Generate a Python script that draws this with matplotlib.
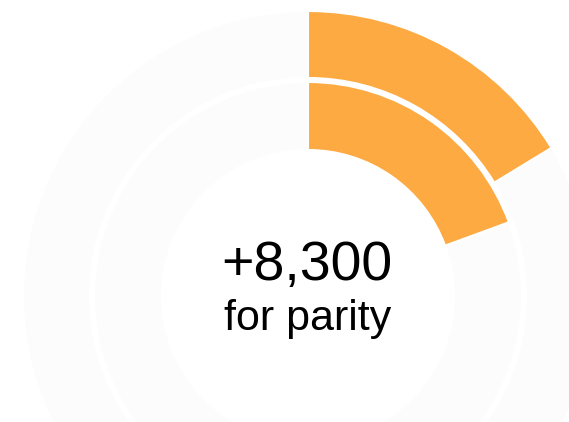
import matplotlib.pyplot as plt
from matplotlib.patches import Wedge

# share of the full circle filled on each ring (outer, inner)
ring_names = ["outer", "inner"]
ring_shares = [0.163, 0.194]
headline = "+8,300"
subline = "for parity"

orange = "#FDAA42"
track = "#FCFCFC"

# ring geometry in pixel units (outer radius, thickness)
cx, cy = 308, 126
rings = [(285, 67), (214, 68)]

fig = plt.figure(figsize=(5.69, 4.22), dpi=100)
ax = fig.add_axes([0, 0, 1, 1])
ax.set_xlim(0, 569)
ax.set_ylim(0, 422)
ax.set_aspect("equal")
ax.axis("off")

for (r, w), share in zip(rings, ring_shares):
    # grey track first, then the filled arc clockwise from 12 o'clock
    ax.add_patch(Wedge((cx, cy), r, 0, 360, width=w, facecolor=track,
                       edgecolor="white", linewidth=1.5))
    sweep = share * 360
    ax.add_patch(Wedge((cx, cy), r, 90 - sweep, 90, width=w, facecolor=orange,
                       edgecolor="white", linewidth=1.5))

ax.text(307, 422 - 280, headline, ha="center", va="baseline",
        fontsize=40, family="Liberation Sans", color="black")
ax.text(308, 422 - 330, subline, ha="center", va="baseline",
        fontsize=31, family="Liberation Sans", color="black")

fig.savefig("out.png", dpi=100)
